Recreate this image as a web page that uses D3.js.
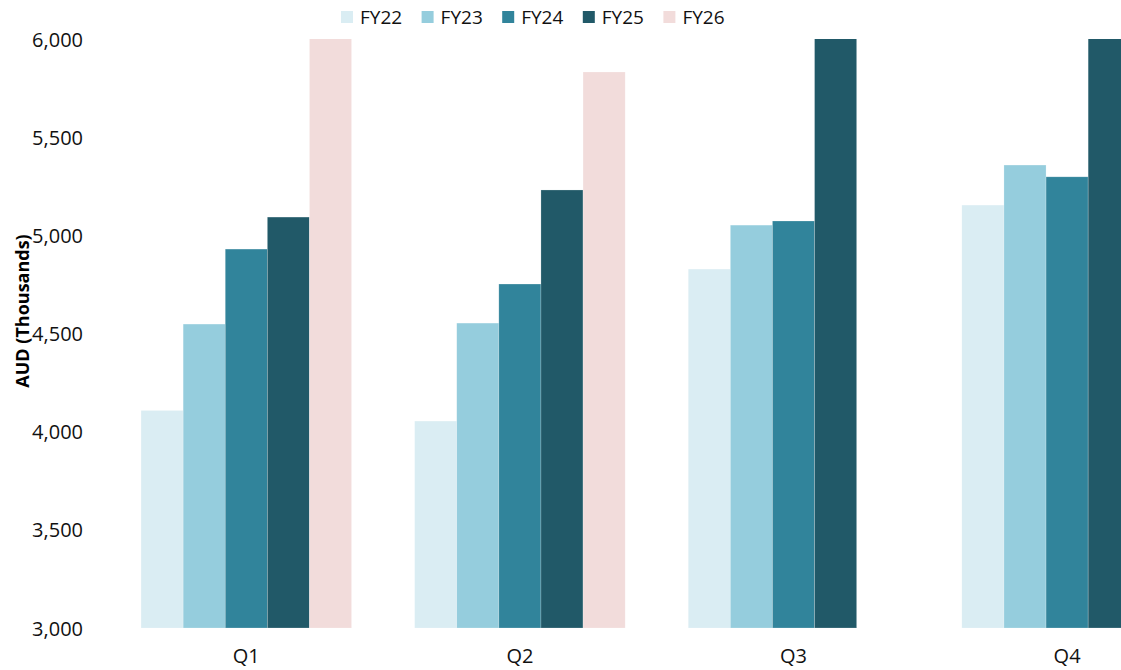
<!DOCTYPE html>
<html>
<head>
<meta charset="utf-8">
<script src="https://cdn.jsdelivr.net/npm/d3@7"></script>
<style>
  html, body { margin: 0; padding: 0; background: #fff; overflow: hidden; }
  svg { display: block; font-family: "Open Sans", sans-serif; }
</style>
</head>
<body>
<svg id="chart" width="1121" height="670"></svg>
<script>
const quarters = ["Q1", "Q2", "Q3", "Q4"];
const series = ["FY22", "FY23", "FY24", "FY25", "FY26"];
const colors = ["#daedf3", "#95cddd", "#31849b", "#215968", "#f2dcdb"];
// values in AUD thousands; null = no data
const fy22 = [4108, 4054, 4828, 5154];
const fy23 = [4548, 4553, 5052, 5358];
const fy24 = [4930, 4752, 5073, 5298];
const fy25 = [5093, 5231, 6150, 6150];
const fy26 = [6100, 5832, null, null];
const yTicks = [3000, 3500, 4000, 4500, 5000, 5500, 6000];
const yTitle = "AUD (Thousands)";

const valuesBySeries = [fy22, fy23, fy24, fy25, fy26];

const svg = d3.select("#chart");
const plotTop = 39, plotBottom = 628, plotLeft = 109.5, bandStep = 273.6;

const x0 = d3.scaleBand().domain(quarters)
  .range([plotLeft, plotLeft + bandStep * quarters.length])
  .paddingInner(0.2306).paddingOuter(0.1153);
const x1 = d3.scaleBand().domain(series).range([0, x0.bandwidth()]);
const y = d3.scaleLinear().domain([3000, 6000]).range([plotBottom, plotTop]);

svg.append("defs").append("clipPath").attr("id", "plotclip")
  .append("rect").attr("x", 0).attr("y", plotTop).attr("width", 1400).attr("height", plotBottom - plotTop);

const g = svg.append("g").attr("clip-path", "url(#plotclip)");
series.forEach((s, si) => {
  const vals = valuesBySeries[si];
  g.selectAll(null)
    .data(quarters.map((q, qi) => ({ q, v: vals[qi] })).filter(d => d.v != null))
    .enter().append("rect")
    .attr("x", d => x0(d.q) + x1(s))
    .attr("y", d => y(d.v))
    .attr("width", x1.bandwidth())
    .attr("height", d => y(3000) - y(d.v))
    .attr("fill", colors[si])
    .attr("stroke", "#ffffff")
    .attr("stroke-opacity", 0.35)
    .attr("stroke-width", 0.6);
});

// Y axis
const yAxis = d3.axisLeft(y).tickValues(yTicks).tickFormat(d3.format(",")).tickSize(0).tickPadding(0);
const ya = svg.append("g").attr("transform", "translate(83,0)").call(yAxis);
ya.select(".domain").remove();
ya.selectAll("text").attr("font-size", 20).attr("fill", "#111")
  .attr("font-family", "Open Sans, sans-serif").attr("dy", "0.35em");

// X axis
const xAxis = d3.axisBottom(x0).tickSize(0).tickPadding(0);
const xa = svg.append("g").attr("transform", `translate(0,${plotBottom})`).call(xAxis);
xa.select(".domain").remove();
xa.selectAll("text").attr("font-size", 20).attr("fill", "#111")
  .attr("font-family", "Open Sans, sans-serif").attr("y", 35).attr("dy", 0);

// Y title
svg.append("text")
  .attr("transform", "translate(29,311) rotate(-90)")
  .attr("text-anchor", "middle")
  .attr("font-size", 18).attr("font-weight", "bold").attr("fill", "#000")
  .text(yTitle);

// Legend
const legend = svg.append("g");
series.forEach((s, i) => {
  const lx = 341 + i * 80.6;
  legend.append("rect").attr("x", lx).attr("y", 11).attr("width", 12).attr("height", 12).attr("fill", colors[i]);
  legend.append("text").attr("x", lx + 19).attr("y", 23.5)
    .attr("font-size", 19).attr("fill", "#111").text(s);
});
</script>
</body>
</html>
